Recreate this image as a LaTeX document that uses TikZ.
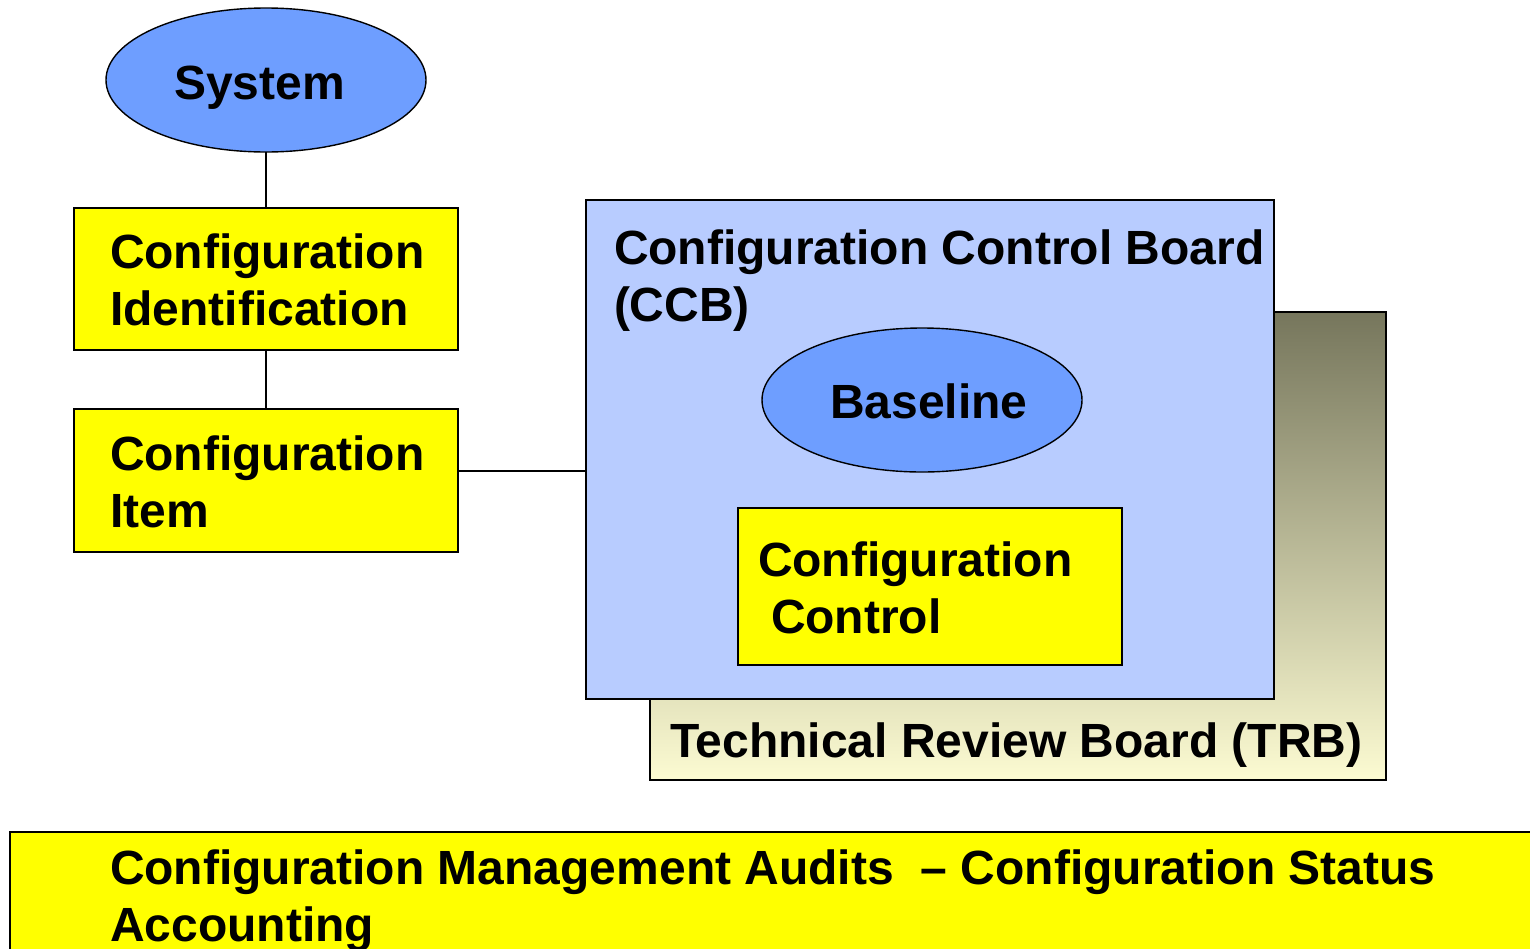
\documentclass[tikz,border=0pt]{standalone}
\usepackage{fontspec}
\setmainfont{Liberation Sans}
\usetikzlibrary{shapes.geometric}
\begin{document}
\begin{tikzpicture}[x=1pt,y=-1pt,
  every node/.style={inner sep=0pt, outer sep=0pt},
  lbl/.style={anchor=base west, font=\fontsize{48}{57}\selectfont\bfseries, align=left},
  ybox/.style={draw=black, line width=1.6pt, fill=cmyellow, anchor=north west},
  oval/.style={ellipse, draw=black, line width=1.4pt, fill=ovalblue},
  link/.style={draw=black, line width=1.4pt}
]
\definecolor{cmyellow}{HTML}{FFFF00}
\definecolor{ovalblue}{HTML}{6E9EFF}
\definecolor{ccbblue}{HTML}{B8CCFF}
\definecolor{trbtop}{HTML}{76765C}
\definecolor{trbbot}{HTML}{FCFBD2}
\useasboundingbox[fill=white] (0,0) rectangle (1530,948);

% left column (two-line labels are placed by the baseline of their last line)
\node[oval, minimum width=320pt, minimum height=144pt] (sys) at (266,80) {};
\node[lbl] (systxt) at (174,99) {System};
\node[ybox, minimum width=384pt, minimum height=142pt] (cid) at (74,208) {};
\node[lbl] (cidtxt) at (110,325) {Configuration\\Identification};
\node[ybox, minimum width=384pt, minimum height=143pt] (citem) at (74,409) {};
\node[lbl] (citemtxt) at (110,527) {Configuration\\Item};

% boards
\node[draw=black, line width=1.6pt, anchor=north west, minimum width=736pt, minimum height=468pt,
      top color=trbtop, bottom color=trbbot] (trb) at (650,312) {};
\node[lbl] (trbtxt) at (670,757) {Technical Review Board (TRB)};
\node[draw=black, line width=1.6pt, fill=ccbblue, anchor=north west, minimum width=688pt, minimum height=499pt] (ccb) at (586,200) {};
\node[lbl] (ccbtxt) at (614,321) {Configuration Control Board\\(CCB)};
\node[oval, minimum width=320pt, minimum height=144pt] (base) at (922,400) {};
\node[lbl] (basetxt) at (830,418) {Baseline};
\node[ybox, minimum width=384pt, minimum height=157pt] (cctl) at (738,508) {};
\node[lbl] (cctltxt) at (758,633) {Configuration\\\hspace*{13pt}Control};

% bottom banner
\node[ybox, minimum width=1540pt, minimum height=200pt] (cma) at (10,832) {};
\node[lbl] (cmatxt) at (110,941) {Configuration Management Audits\ \ -- Configuration Status\\Accounting};

% connectors
\draw[link] (sys.south) -- (cid.north);
\draw[link] (cid.south) -- (citem.north);
\draw[link] (citem.east |- 0,471) -- (ccb.west |- 0,471);
\end{tikzpicture}
\end{document}
